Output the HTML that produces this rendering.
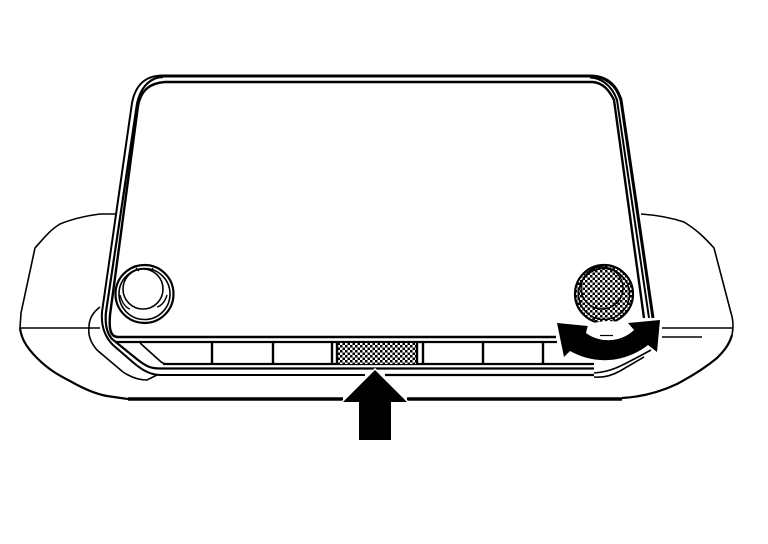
<!DOCTYPE html>
<html><head><meta charset="utf-8"><style>html,body{margin:0;padding:0;background:#fff;width:768px;height:544px;overflow:hidden}svg{display:block}</style></head><body>
<svg width="768" height="544" viewBox="0 0 768 544" xmlns="http://www.w3.org/2000/svg">
<defs><pattern id="h" width="5" height="5" patternUnits="userSpaceOnUse"><rect width="5" height="5" fill="#fff"/><rect width="2.5" height="2.5" fill="#000"/><rect x="2.5" y="2.5" width="2.5" height="2.5" fill="#000"/></pattern></defs>
<g fill="none" stroke="#000">
<!-- bezel -->
<path stroke-width="1.6" d="M115 214 L100 214 C85 216 72 219 60 224 C50 230 43 239 35 248 L21 313 L20 328"/>
<path stroke-width="2.2" d="M20 328 C21 336 24 345 37 358 C48 369 58 375 70 381 C84 389 96 394 107 396 L128 399"/>
<path stroke-width="1.6" d="M641 214 C655 215 672 218 684 222 C697 230 705 238 714 248 L731 313 C734 322 733 330 732 335"/>
<path stroke-width="2.2" d="M732 335 C729 345 724 351 717 358 C705 368 692 376 677 384 C660 392 640 397 622 398"/>
<path stroke-width="3.4" d="M128 399 H343 M407 399 H622"/>
<path stroke-width="1.6" d="M20 328 H100 M662 328 H733 M662 337 H702"/>
<path stroke-width="1.6" d="M100 307 C92 313 89 320 89 327 C88 334 90 342 97 350 L123 372 C132 378 140 380 147 380 L157 375"/>
<!-- screen -->
<path stroke-width="2" d="M163 75.5 C148 75.5 136 82 132 103 L102 312 C101 325 104 336 113 345 L128 358 C138 367 148 375 160 375 H365"/>
<path stroke-width="2.2" d="M163 77 C152 77 141 85 137 104 L106 312 C105 322 106 332 112 339 L138 360 C146 366 150 368.5 160 368.5 H594"/>
<path stroke-width="2.4" d="M165 82 C150 83 141 90 138 106 L110 315 C109 328 110 337 118 337 H556"/>
<path stroke-width="3" d="M163 76 H590 C606 76 616 84 621 100 L653 318"/>
<path stroke-width="2" d="M590 77.5 C602 78 612 86 617 100 L649 318"/>
<path stroke-width="2.4" d="M165 82 H593 C603 83 609 90 614 100 L644 318"/>
<path stroke-width="2.2" d="M385 375 H594"/>
<!-- buttons -->
<path stroke-width="2.2" d="M116 342 H557 M163 364 H594"/>
<path stroke-width="1.6" d="M140 343 L160 361 Q163 364 168 364"/>
<path stroke-width="1.6" d="M594 373 C610 372 618 368 651 350 M594 377 C603 378 611 376 620 371 L644 357"/>
</g>
<rect x="337" y="343" width="80" height="21" fill="url(#h)"/>
<g stroke="#000" stroke-width="2.4" fill="none"><path d="M212 342 V364 M273 342 V364 M332 342 V364 M337 342 V364 M417 342 V364 M423 342 V364 M483 342 V364 M543 342 V364"/></g>
<!-- left knob -->
<g fill="none" stroke="#000">
<circle cx="144.5" cy="294" r="29" stroke-width="2.2"/>
<circle cx="144.5" cy="294" r="25.5" stroke-width="1.6"/>
<circle cx="143" cy="289" r="20" stroke-width="1.6"/>
<path stroke-width="1.4" d="M136 268 L139 271 M153 268 L151 271 M120 295 C122 303 126 308 130 309 M167 295 C165 302 161 306 157 307"/>
</g>
<!-- right knob -->
<circle cx="604" cy="294" r="29" fill="url(#h)" stroke="#000" stroke-width="2.2"/>
<circle cx="604" cy="294" r="25.5" fill="none" stroke="#000" stroke-width="1.4"/>
<circle cx="602" cy="288" r="21" fill="none" stroke="#000" stroke-width="1.4"/>
<!-- rotate arrow -->
<path d="M557 323 L588 326 L586 333 C600 343 620 343 634 330 L628 323 L660 320 L657 352 L648 345 C625 363 595 365 570 351 L564 357 Z" fill="#000" stroke="#fff" stroke-width="3" paint-order="stroke"/>
<path d="M588 325 C600 320 615 320 628 324 L634 330 C620 343 600 343 586 333 Z" fill="#fff"/>
<path d="M600 335.5 H613" stroke="#000" stroke-width="1.2"/>
<!-- up arrow -->
<path d="M375 370 L343 402 H359 V440 H391 V402 H407 Z" fill="#000" stroke="#fff" stroke-width="3" paint-order="stroke"/>
</svg>
</body></html>
